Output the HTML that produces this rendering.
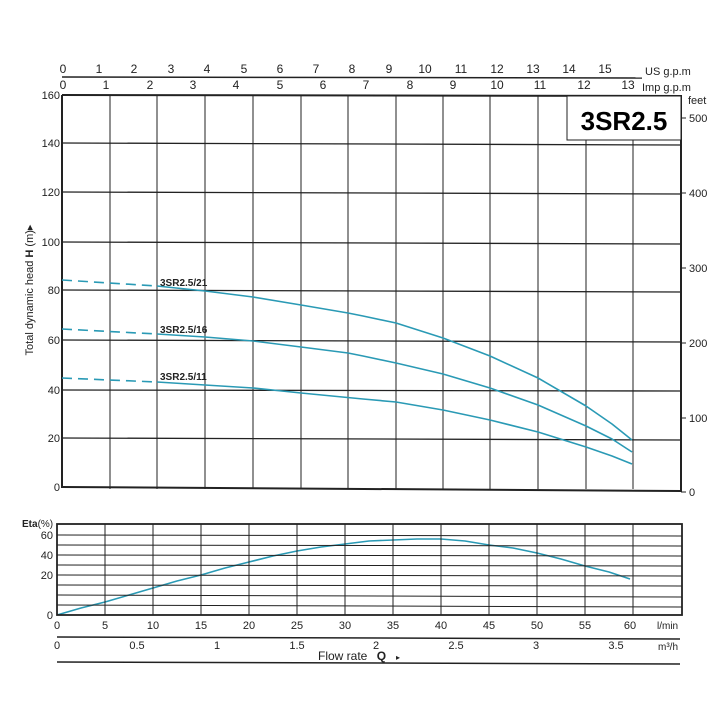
<!DOCTYPE html><html><head><style>body{margin:0;background:#fff}svg{display:block}text{font-family:"Liberation Sans",sans-serif;fill:#222}</style></head><body>
<svg width="726" height="726" viewBox="0 0 726 726">
<g stroke="#222" fill="none">
<line x1="62" y1="77" x2="642" y2="78" stroke-width="1.5"/>
<line x1="62" y1="95" x2="682" y2="96" stroke-width="2"/>
<g stroke-width="1">
<line x1="110" y1="95" x2="110" y2="489"/><line x1="157" y1="95" x2="157" y2="489"/><line x1="205" y1="95" x2="205" y2="489"/><line x1="253" y1="95" x2="253" y2="489"/><line x1="301" y1="95" x2="301" y2="489"/><line x1="348" y1="95" x2="348" y2="489"/><line x1="396" y1="95" x2="396" y2="489"/><line x1="443" y1="95" x2="443" y2="489"/><line x1="490" y1="95" x2="490" y2="489"/><line x1="538" y1="95" x2="538" y2="489"/><line x1="586" y1="140" x2="586" y2="489"/><line x1="633" y1="140" x2="633" y2="489"/>
</g>
<g stroke-width="1.3">
<line x1="62" y1="143" x2="682" y2="145"/><line x1="62" y1="192" x2="682" y2="194"/><line x1="62" y1="242" x2="682" y2="244"/><line x1="62" y1="290" x2="682" y2="292"/><line x1="62" y1="340" x2="682" y2="342"/><line x1="62" y1="390" x2="682" y2="391"/><line x1="62" y1="438" x2="682" y2="440"/>
</g>
<line x1="62" y1="95" x2="62" y2="488" stroke-width="2"/>
<line x1="681" y1="96" x2="681" y2="492" stroke-width="2"/>
<line x1="62" y1="487" x2="681" y2="491" stroke-width="2"/>
<rect x="567" y="96" width="114" height="44" fill="#fff" stroke-width="1"/>
<g stroke-width="1"><line x1="681" y1="118" x2="686" y2="118"/><line x1="681" y1="193" x2="686" y2="193"/><line x1="681" y1="268" x2="686" y2="268"/><line x1="681" y1="343" x2="686" y2="343"/><line x1="681" y1="418" x2="686" y2="418"/><line x1="681" y1="492" x2="686" y2="492"/></g>
<g stroke="#2a9ab5" stroke-width="1.6" stroke-linejoin="round">
<path d="M62 280 L157 286" stroke-dasharray="10,6"/>
<polyline points="157,286 205,291 253,297 301,305 348,313 363,316 396,323 443,338 490,356 538,378 586,406 612,424 632,440"/>
<path d="M62 329 L157 334" stroke-dasharray="10,6"/>
<polyline points="157,334 205,337 253,341 301,347 348,353 363,356 396,363 443,374 490,388 538,405 586,426 612,439 632,452"/>
<path d="M62 378 L157 382" stroke-dasharray="10,6"/>
<polyline points="157,382 205,385 253,388 301,393 363,399 396,402 443,410 490,420 538,432 586,447 612,456 632,464"/>
<polyline points="57,615 81,608 105,602 129,595 153,588 177,581 201,575 225,568 249,562 273,556 297,551 321,547 345,544 369,541 393,540 417,539 441,539 465,541 489,545 513,548 537,553 561,559 585,566 609,572 630,579"/>
</g>
<rect x="57" y="524" width="625" height="91" stroke-width="1.8"/>
<g stroke-width="1">
<line x1="57" y1="535" x2="682" y2="536"/><line x1="57" y1="545" x2="682" y2="546"/><line x1="57" y1="555" x2="682" y2="556"/><line x1="57" y1="565" x2="682" y2="566"/><line x1="57" y1="575" x2="682" y2="576"/><line x1="57" y1="585" x2="682" y2="586"/><line x1="57" y1="595" x2="682" y2="597"/><line x1="57" y1="605" x2="682" y2="607"/>
<line x1="105" y1="524" x2="105" y2="615"/><line x1="153" y1="524" x2="153" y2="615"/><line x1="201" y1="524" x2="201" y2="615"/><line x1="249" y1="524" x2="249" y2="615"/><line x1="297" y1="524" x2="297" y2="615"/><line x1="345" y1="524" x2="345" y2="615"/><line x1="393" y1="524" x2="393" y2="615"/><line x1="441" y1="524" x2="441" y2="615"/><line x1="489" y1="524" x2="489" y2="615"/><line x1="537" y1="524" x2="537" y2="615"/><line x1="585" y1="524" x2="585" y2="615"/><line x1="633" y1="524" x2="633" y2="615"/>
</g>
<line x1="57" y1="637" x2="680" y2="639" stroke-width="1.5"/>
<line x1="57" y1="662" x2="680" y2="664" stroke-width="1.5"/>
</g>
<g font-size="12" text-anchor="middle">
<text x="63" y="73">0</text><text x="99" y="73">1</text><text x="134" y="73">2</text><text x="171" y="73">3</text><text x="207" y="73">4</text><text x="244" y="73">5</text><text x="280" y="73">6</text><text x="316" y="73">7</text><text x="352" y="73">8</text><text x="389" y="73">9</text><text x="425" y="73">10</text><text x="461" y="73">11</text><text x="497" y="73">12</text><text x="533" y="73">13</text><text x="569" y="73">14</text><text x="605" y="73">15</text>
<text x="63" y="89">0</text><text x="106" y="89">1</text><text x="150" y="89">2</text><text x="193" y="89">3</text><text x="236" y="89">4</text><text x="280" y="89">5</text><text x="323" y="89">6</text><text x="366" y="89">7</text><text x="410" y="89">8</text><text x="453" y="89">9</text><text x="497" y="89">10</text><text x="540" y="89">11</text><text x="584" y="89">12</text><text x="628" y="89">13</text>
</g>
<text x="645" y="75" font-size="11">US g.p.m</text>
<text x="642" y="91" font-size="11">Imp g.p.m</text>
<g font-size="11" text-anchor="end">
<text x="60" y="99">160</text><text x="60" y="147">140</text><text x="60" y="196">120</text><text x="60" y="246">100</text><text x="60" y="294">80</text><text x="60" y="344">60</text><text x="60" y="394">40</text><text x="60" y="442">20</text><text x="60" y="491">0</text>
<text x="53" y="539">60</text><text x="53" y="559">40</text><text x="53" y="579">20</text><text x="53" y="619">0</text>
</g>
<g font-size="11"><text x="688" y="104">feet</text><text x="689" y="122">500</text><text x="689" y="197">400</text><text x="689" y="272">300</text><text x="689" y="347">200</text><text x="689" y="422">100</text><text x="689" y="496">0</text></g>
<text x="624" y="130" font-size="26" font-weight="bold" text-anchor="middle" style="fill:#000">3SR2.5</text>
<text transform="translate(33,290) rotate(-90)" font-size="11" text-anchor="middle">Total dynamic head <tspan font-weight="bold">H</tspan> (m)▸</text>
<g font-size="10" font-weight="bold"><text x="160" y="286">3SR2.5/21</text><text x="160" y="333">3SR2.5/16</text><text x="160" y="380">3SR2.5/11</text></g>
<text x="22" y="527" font-size="10"><tspan font-weight="bold">Eta</tspan>(%)</text>
<g font-size="11" text-anchor="middle">
<text x="57" y="629">0</text><text x="105" y="629">5</text><text x="153" y="629">10</text><text x="201" y="629">15</text><text x="249" y="629">20</text><text x="297" y="629">25</text><text x="345" y="629">30</text><text x="393" y="629">35</text><text x="441" y="629">40</text><text x="489" y="629">45</text><text x="537" y="629">50</text><text x="585" y="629">55</text><text x="630" y="629">60</text>
<text x="57" y="649">0</text><text x="137" y="649">0.5</text><text x="217" y="649">1</text><text x="297" y="649">1.5</text><text x="376" y="649">2</text><text x="456" y="649">2.5</text><text x="536" y="649">3</text><text x="616" y="649">3.5</text>
</g>
<text x="657" y="629" font-size="10">l/min</text>
<text x="658" y="650" font-size="10">m³/h</text>
<text x="318" y="660" font-size="12">Flow rate  <tspan font-weight="bold" dx="6">Q</tspan><tspan dx="10" font-size="8">▸</tspan></text>
</svg></body></html>
